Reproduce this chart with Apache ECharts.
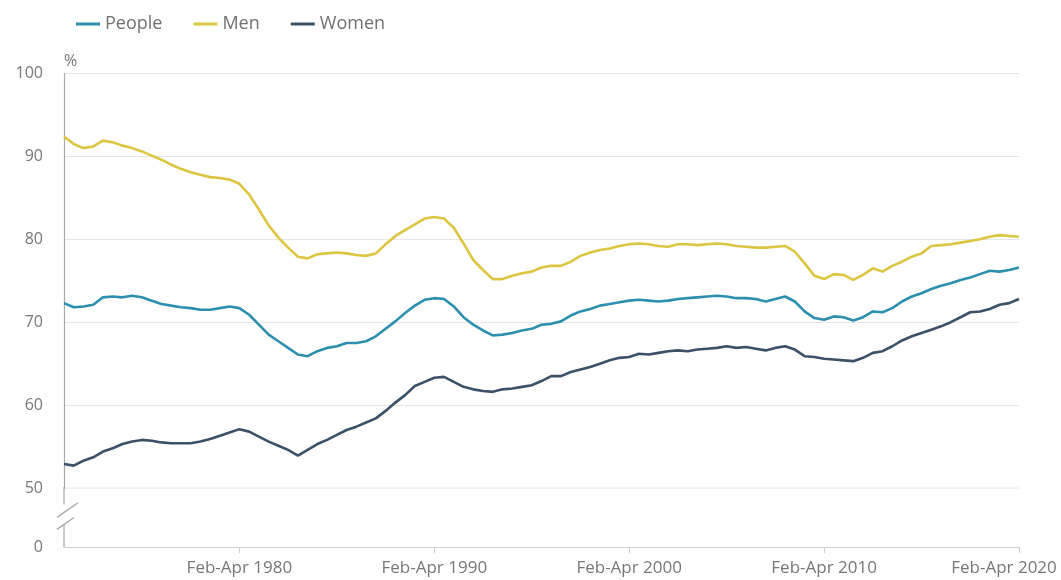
<!DOCTYPE html>
<html>
<head>
<meta charset="utf-8">
<script src="https://cdn.jsdelivr.net/npm/echarts@6.0.0/dist/echarts.min.js"></script>
<style>
html,body{margin:0;padding:0;background:#fff;}
#chart{width:1061px;height:580px;}
</style>
</head>
<body>
<div id="chart"></div>
<script>
// Categories: rolling three-month periods, sampled every six months, Feb-Apr 1971 .. Feb-Apr 2020
const periods = ['Feb-Apr', 'Aug-Oct'];
const categories = [];
for (let y = 1971; y <= 2020; y++) {
  for (const p of periods) {
    if (y === 2020 && p !== 'Feb-Apr') continue;
    categories.push(p + ' ' + y);
  }
}

const people = [
  72.3, 71.8, 71.9, 72.1, 73.0, 73.1, 73.0, 73.2, 73.0, 72.6,
  72.2, 72.0, 71.8, 71.7, 71.5, 71.5, 71.7, 71.9, 71.7, 70.9,
  69.7, 68.5, 67.7, 66.9, 66.1, 65.9, 66.5, 66.9, 67.1, 67.5,
  67.5, 67.7, 68.3, 69.2, 70.1, 71.1, 72.0, 72.7, 72.9, 72.8,
  71.9, 70.6, 69.7, 69.0, 68.4, 68.5, 68.7, 69.0, 69.2, 69.7,
  69.8, 70.1, 70.8, 71.3, 71.6, 72.0, 72.2, 72.4, 72.6, 72.7,
  72.6, 72.5, 72.6, 72.8, 72.9, 73.0, 73.1, 73.2, 73.1, 72.9,
  72.9, 72.8, 72.5, 72.8, 73.1, 72.5, 71.3, 70.5, 70.3, 70.7,
  70.6, 70.2, 70.6, 71.3, 71.2, 71.7, 72.5, 73.1, 73.5, 74.0,
  74.4, 74.7, 75.1, 75.4, 75.8, 76.2, 76.1, 76.3, 76.6
];

const men = [
  92.4, 91.5, 91.0, 91.2, 91.9, 91.7, 91.3, 91.0, 90.6, 90.1,
  89.6, 89.0, 88.5, 88.1, 87.8, 87.5, 87.4, 87.2, 86.7, 85.4,
  83.6, 81.7, 80.2, 79.0, 77.9, 77.7, 78.2, 78.3, 78.4, 78.3,
  78.1, 78.0, 78.3, 79.4, 80.4, 81.1, 81.8, 82.5, 82.7, 82.5,
  81.4, 79.5, 77.5, 76.3, 75.2, 75.2, 75.6, 75.9, 76.1, 76.6,
  76.8, 76.8, 77.3, 78.0, 78.4, 78.7, 78.9, 79.2, 79.4, 79.5,
  79.4, 79.2, 79.1, 79.4, 79.4, 79.3, 79.4, 79.5, 79.4, 79.2,
  79.1, 79.0, 79.0, 79.1, 79.2, 78.5, 77.1, 75.6, 75.2, 75.8,
  75.7, 75.1, 75.7, 76.5, 76.1, 76.8, 77.3, 77.9, 78.3, 79.2,
  79.3, 79.4, 79.6, 79.8, 80.0, 80.3, 80.5, 80.4, 80.3
];

const women = [
  52.9, 52.7, 53.3, 53.7, 54.4, 54.8, 55.3, 55.6, 55.8, 55.7,
  55.5, 55.4, 55.4, 55.4, 55.6, 55.9, 56.3, 56.7, 57.1, 56.8,
  56.2, 55.6, 55.1, 54.6, 53.9, 54.6, 55.3, 55.8, 56.4, 57.0,
  57.4, 57.9, 58.4, 59.3, 60.3, 61.2, 62.3, 62.8, 63.3, 63.4,
  62.8, 62.2, 61.9, 61.7, 61.6, 61.9, 62.0, 62.2, 62.4, 62.9,
  63.5, 63.5, 64.0, 64.3, 64.6, 65.0, 65.4, 65.7, 65.8, 66.2,
  66.1, 66.3, 66.5, 66.6, 66.5, 66.7, 66.8, 66.9, 67.1, 66.9,
  67.0, 66.8, 66.6, 66.9, 67.1, 66.7, 65.9, 65.8, 65.6, 65.5,
  65.4, 65.3, 65.7, 66.3, 66.5, 67.1, 67.8, 68.3, 68.7, 69.1,
  69.5, 70.0, 70.6, 71.2, 71.3, 71.6, 72.1, 72.3, 72.8
];

const seriesNames = ['People', 'Men', 'Women'];
const colors = ['#2c8fad', '#dcc540', '#3b5069'];

const FONT = "'Open Sans', 'Noto Sans', sans-serif";
const isLabelled = (v) => v.indexOf('Feb-Apr') === 0 && (+v.slice(-4)) % 10 === 0;

const chart = echarts.init(document.getElementById('chart'), null, { renderer: 'canvas' });

const option = {
  animation: false,
  color: colors,
  textStyle: { fontFamily: FONT },
  legend: {
    left: 71, top: 10,
    icon: 'rect', itemWidth: 24, itemHeight: 3, itemGap: 31,
    textStyle: { fontFamily: FONT, fontSize: 18, color: '#707070' },
    data: seriesNames
  },
  grid: { left: 64, right: 42, top: 73.5, bottom: 33, containLabel: false, outerBoundsMode: 'none' },
  xAxis: {
    type: 'category',
    boundaryGap: false,
    data: categories,
    axisLine: { lineStyle: { color: '#cfcfcf', width: 1 } },
    axisTick: { show: true, length: 6, interval: (i, v) => isLabelled(v), lineStyle: { color: '#cfcfcf' } },
    axisLabel: {
      interval: (i, v) => isLabelled(v),
      fontFamily: FONT, fontSize: 17, color: '#777', margin: 13,
      formatter: (v, i) => i === categories.length - 1 ? '{last|' + v + '}' : v,
      rich: { last: { fontFamily: FONT, fontSize: 17, color: '#777', padding: [0, 30, 0, 0] } }
    },
    splitLine: { show: false }
  },
  yAxis: {
    type: 'value',
    min: 0, max: 100, interval: 10,
    breaks: [{ start: 0, end: 50, gap: '12.46%' }],
    breakArea: { show: false },
    name: '%',
    nameLocation: 'end',
    nameGap: 4,
    nameTextStyle: { fontFamily: FONT, fontSize: 16, color: '#777', align: 'left' },
    axisLine: { show: true, lineStyle: { color: '#a8a8a8', width: 1.2 } },
    axisTick: { show: false },
    axisLabel: {
      fontFamily: FONT, fontSize: 16, color: '#777', margin: 21,
      formatter: (v) => String(Math.round(v))
    },
    splitLine: { show: true, lineStyle: { color: '#e6e6e6', width: 1 } }
  },
  series: [
    { name: 'People', type: 'line', data: people, showSymbol: false, lineStyle: { width: 2.6, color: colors[0] }, itemStyle: { color: colors[0] }, z: 3 },
    { name: 'Men', type: 'line', data: men, showSymbol: false, lineStyle: { width: 2.6, color: colors[1] }, itemStyle: { color: colors[1] }, z: 2 },
    { name: 'Women', type: 'line', data: women, showSymbol: false, lineStyle: { width: 2.6, color: colors[2] }, itemStyle: { color: colors[2] }, z: 4 }
  ]
};

chart.setOption(option);

// Axis-break marker ("//") on the y axis, placed from the axis scale
function drawBreakMark() {
  const y0 = chart.convertToPixel({ yAxisIndex: 0 }, 0);
  const y50 = chart.convertToPixel({ yAxisIndex: 0 }, 50);
  const ax = chart.convertToPixel({ xAxisIndex: 0 }, 0);
  const xr = chart.convertToPixel({ xAxisIndex: 0 }, categories.length - 1);
  const ym = (y0 + y50) / 2;
  const yu = ym - 5, yl = ym + 7;
  const stroke = '#a8a8a8';
  chart.setOption({
    graphic: [
      { type: 'line', shape: { x1: ax, y1: y50, x2: xr, y2: y50 }, style: { stroke: '#e6e6e6', lineWidth: 1 }, z: 0, silent: true },
      { type: 'rect', shape: { x: ax - 3, y: y50 + 1, width: 6, height: y0 - y50 - 2 }, style: { fill: '#fff' }, z: 100, silent: true },
      { type: 'line', shape: { x1: ax, y1: y50 - 1, x2: ax, y2: yu - 8 }, style: { stroke: stroke, lineWidth: 1.2 }, z: 101, silent: true },
      { type: 'line', shape: { x1: ax, y1: yl, x2: ax, y2: y0 }, style: { stroke: stroke, lineWidth: 1.2 }, z: 101, silent: true },
      { type: 'line', shape: { x1: ax - 7, y1: yu + 4.9, x2: ax + 14, y2: yu - 9.8 }, style: { stroke: stroke, lineWidth: 1.3 }, z: 102, silent: true },
      { type: 'line', shape: { x1: ax - 7, y1: yl + 4.9, x2: ax + 10, y2: yl - 7 }, style: { stroke: stroke, lineWidth: 1.3 }, z: 102, silent: true }
    ]
  });
}
drawBreakMark();
</script>
</body>
</html>
